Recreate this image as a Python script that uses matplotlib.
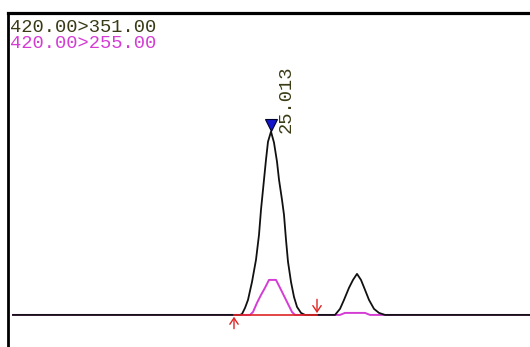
import matplotlib
matplotlib.use("Agg")
import matplotlib.pyplot as plt

# MRM transitions shown in the trace header
TRANSITIONS = ["420.00>351.00", "420.00>255.00"]
PEAK_RT = 25.013

# quantifier trace (420 > 351), retention time in min, relative intensity
QUANT_TIME = [23.981, 24.889, 24.897, 24.909, 24.921, 24.937, 24.953, 24.965,
              24.973, 24.985, 24.993, 25.001, 25.013, 25.025, 25.037, 25.045,
              25.057, 25.065, 25.073, 25.081, 25.093, 25.105, 25.117, 25.133,
              25.149, 25.269, 25.289, 25.305, 25.325, 25.341, 25.357, 25.373,
              25.389, 25.405, 25.425, 25.445, 25.469, 26.049]
QUANT_INT = [0, 0, 0.5, 3.8, 8.2, 18.0, 30.1, 43.7,
             57.4, 73.8, 84.7, 94.5, 100.0, 94.0, 83.6, 73.8,
             62.8, 54.6, 41.0, 29.0, 18.0, 9.8, 4.4, 1.1,
             0, 0, 3.3, 8.2, 14.8, 19.1, 22.4, 19.1,
             13.7, 8.2, 3.3, 1.1, 0, 0]

# qualifier trace (420 > 255)
QUAL_TIME = [23.981, 24.929, 24.941, 24.957, 24.973, 24.989, 25.005, 25.033,
             25.049, 25.065, 25.081, 25.097, 25.109, 25.289, 25.309, 25.389,
             25.409, 26.049]
QUAL_INT = [0, 0, 1.6, 6.6, 10.9, 14.8, 19.1, 19.1,
            14.8, 10.4, 6.0, 1.6, 0, 0, 1.1, 1.1,
            0, 0]

# integration start / end of the main peak
INT_START, INT_END = 24.865, 25.197

OLIVE = "#3a3a16"
MAGENTA = "#d43cd4"
RED = "#e02424"
FONT = "Liberation Mono"

fig = plt.figure(figsize=(5.30, 3.47), dpi=100)
ax = fig.add_axes([8 / 530, 0, 1 - 8 / 530, 1 - 12.5 / 347])
ax.set_xlim(23.961, 26.049)
ax.set_ylim(-17.5, 165)

for side in ["right", "bottom"]:
    ax.spines[side].set_visible(False)
ax.spines["top"].set_linewidth(2.3)
ax.spines["left"].set_linewidth(2.0)
ax.set_xticks([])
ax.set_yticks([])

ax.plot(QUAL_TIME, QUAL_INT, color=MAGENTA, lw=1.4, zorder=2)
ax.plot(QUANT_TIME, QUANT_INT, color="#111111", lw=1.3, zorder=3)

# integration baseline and markers
arrow = dict(arrowstyle="->,head_length=0.45,head_width=0.3", color=RED,
             lw=1.0, shrinkA=0, shrinkB=0)
ax.plot([INT_START, INT_END], [0, 0], color=RED, lw=1.2, zorder=4)
ax.annotate("", xy=(INT_START, -1.0), xytext=(INT_START, -7.5),
            arrowprops=arrow, zorder=5)
ax.annotate("", xy=(INT_END, 1.0), xytext=(INT_END, 8.5),
            arrowprops=arrow, zorder=5)

# apex marker and retention time label
ax.plot([PEAK_RT], [103.5], marker="v", markersize=9, color="#1414cc",
        markeredgecolor="#000030", markeredgewidth=0.8, zorder=6)
ax.text(PEAK_RT + 0.062, 99.5, f"{PEAK_RT:.3f}", rotation=90, ha="center",
        va="bottom", color=OLIVE, fontsize=13.5, family=FONT)

fig.text(10 / 530, 1 - 32 / 347, TRANSITIONS[0], color=OLIVE, fontsize=13.5,
         family=FONT, va="baseline")
fig.text(10 / 530, 1 - 47.5 / 347, TRANSITIONS[1], color=MAGENTA, fontsize=13.5,
         family=FONT, va="baseline")

fig.savefig("out.png", dpi=100)
